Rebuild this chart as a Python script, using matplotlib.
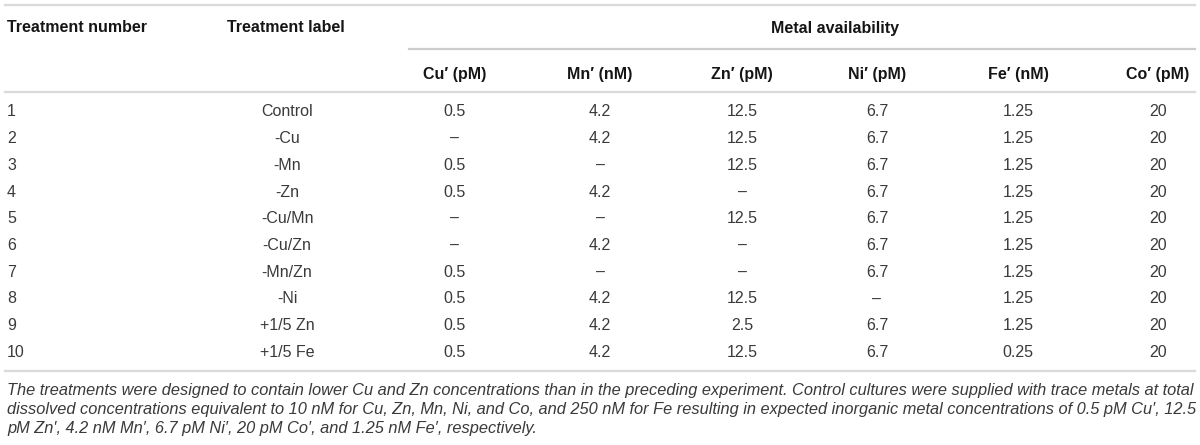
import matplotlib
matplotlib.use('Agg')
import matplotlib.pyplot as plt

plt.rcParams['font.family'] = ['Liberation Sans', 'DejaVu Sans']

treatment_numbers = ['1', '2', '3', '4', '5', '6', '7', '8', '9', '10']
treatment_labels = ['Control', '-Cu', '-Mn', '-Zn', '-Cu/Mn', '-Cu/Zn', '-Mn/Zn', '-Ni', '+1/5 Zn', '+1/5 Fe']
metal_headers = ['Cu\u2032 (pM)', 'Mn\u2032 (nM)', 'Zn\u2032 (pM)', 'Ni\u2032 (pM)', 'Fe\u2032 (nM)', 'Co\u2032 (pM)']
cu = ['0.5', None, '0.5', '0.5', None, None, '0.5', '0.5', '0.5', '0.5']
mn = ['4.2', '4.2', None, '4.2', None, '4.2', None, '4.2', '4.2', '4.2']
zn = ['12.5', '12.5', '12.5', None, '12.5', None, None, '12.5', '2.5', '12.5']
ni = ['6.7', '6.7', '6.7', '6.7', '6.7', '6.7', '6.7', None, '6.7', '6.7']
fe = ['1.25', '1.25', '1.25', '1.25', '1.25', '1.25', '1.25', '1.25', '1.25', '0.25']
co = ['20', '20', '20', '20', '20', '20', '20', '20', '20', '20']
footnote = [
    'The treatments were designed to contain lower Cu and Zn concentrations than in the preceding experiment. Control cultures were supplied with trace metals at total',
    'dissolved concentrations equivalent to 10 nM for Cu, Zn, Mn, Ni, and Co, and 250 nM for Fe resulting in expected inorganic metal concentrations of 0.5 pM Cu\u2032, 12.5',
    'pM Zn\u2032, 4.2 nM Mn\u2032, 6.7 pM Ni\u2032, 20 pM Co\u2032, and 1.25 nM Fe\u2032, respectively.',
]

W, H = 1200, 445
fig = plt.figure(figsize=(W / 100, H / 100), dpi=100)
ax = fig.add_axes([0, 0, 1, 1])
ax.set_xlim(0, W)
ax.set_ylim(H, 0)
ax.axis('off')

line_col = '#dadada'
txt_col = '#3a3a3a'
hdr_col = '#151515'
fs = 11.5

# rules
ax.plot([5, 1195], [5, 5], color=line_col, lw=1.6)
ax.plot([409, 1195], [49, 49], color='#cccccc', lw=1.6)
ax.plot([5, 1195], [92, 92], color=line_col, lw=1.6)
ax.plot([5, 1195], [371, 371], color=line_col, lw=1.6)

# header
ax.text(7, 28, 'Treatment number', fontsize=fs, fontweight='bold', color=hdr_col, va='center', ha='left')
ax.text(227, 28, 'Treatment label', fontsize=fs, fontweight='bold', color=hdr_col, va='center', ha='left')
ax.text(835, 28, 'Metal availability', fontsize=fs, fontweight='bold', color=hdr_col, va='center', ha='center')

col_x = [455, 600, 742, 877, 1018, 1158]
for x, h in zip(col_x, metal_headers):
    ax.text(x, 74, h, fontsize=fs, fontweight='bold', color=hdr_col, va='center', ha='center')

# body
columns = [cu, mn, zn, ni, fe, co]
row0, dy = 112, 26.7
for i in range(len(treatment_numbers)):
    y = row0 + i * dy
    ax.text(7, y, treatment_numbers[i], fontsize=fs, color=txt_col, va='center', ha='left')
    ax.text(287, y, treatment_labels[i], fontsize=fs, color=txt_col, va='center', ha='center')
    for x, col in zip(col_x, columns):
        v = col[i] if col[i] is not None else '\u2013'
        ax.text(x, y, v, fontsize=fs, color=txt_col, va='center', ha='center')

# footnote
for j, line in enumerate(footnote):
    ax.text(7, 390 + j * 19.5, line, fontsize=11.8, style='italic', color=txt_col, va='center', ha='left')

fig.savefig('out.png', dpi=100)
